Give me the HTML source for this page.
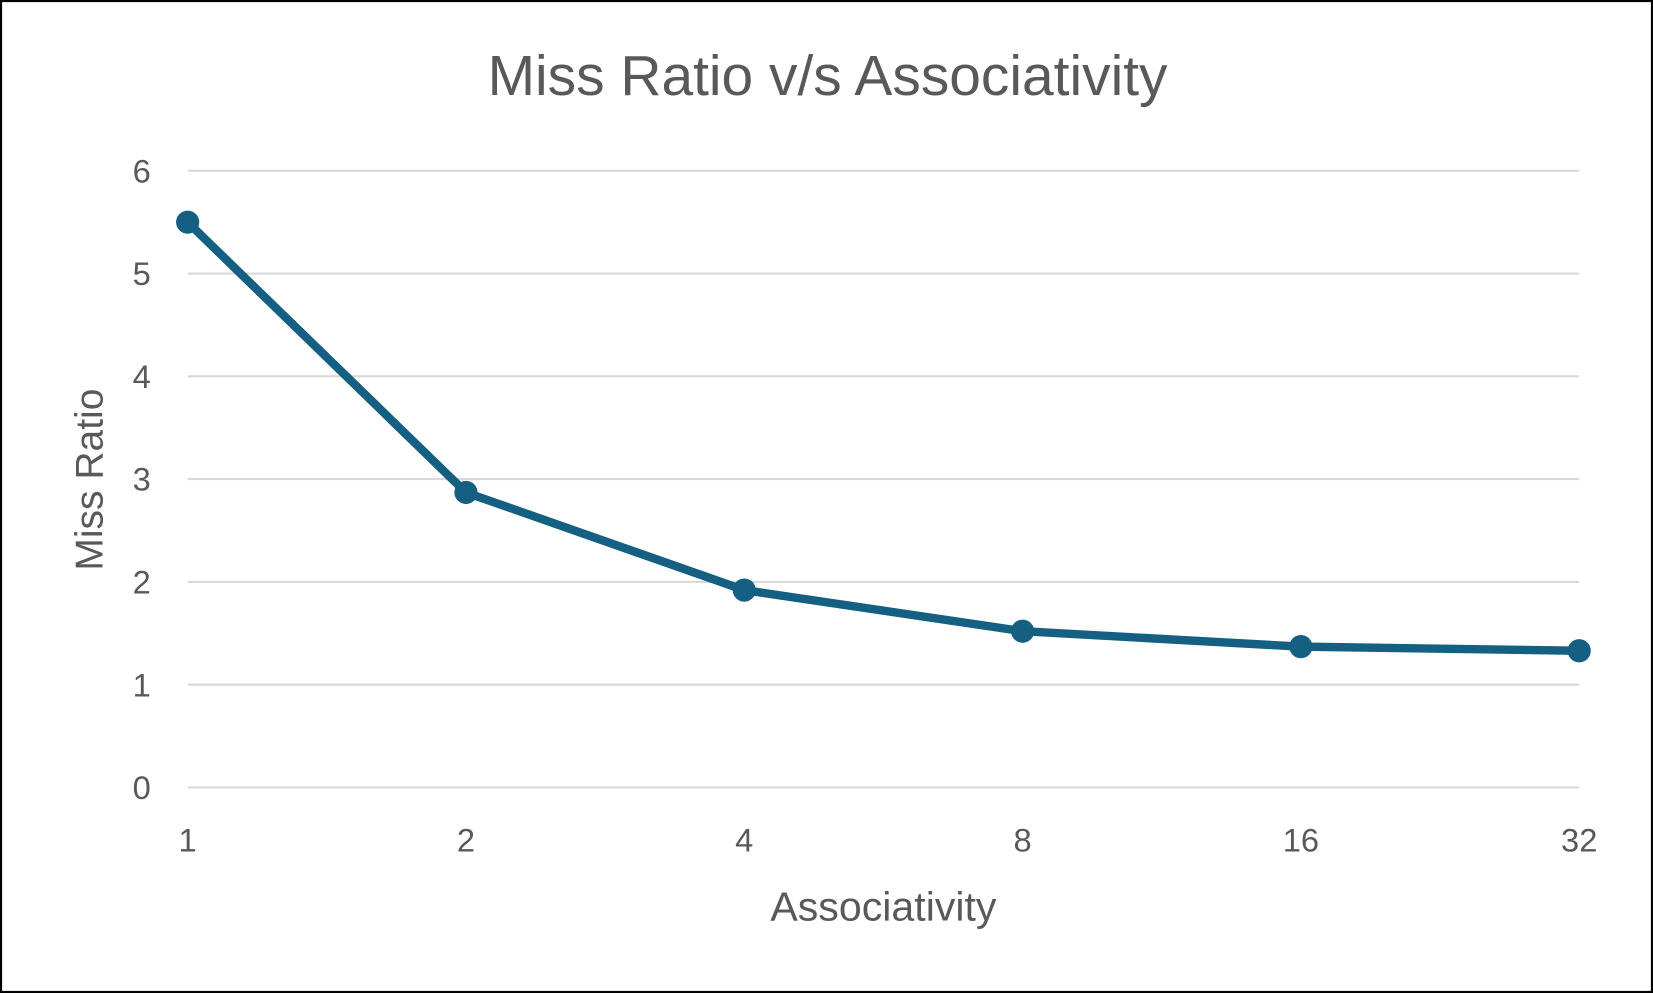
<!DOCTYPE html>
<html><head><meta charset="utf-8"><style>
html,body{margin:0;padding:0;background:#fff;}
svg{display:block;font-family:"Liberation Sans",sans-serif;}
</style></head><body>
<svg id="chart" width="1653" height="993" viewBox="0 0 1568 942" preserveAspectRatio="none">
<rect x="1" y="1" width="1566" height="940" fill="#fff" stroke="#000" stroke-width="2"/>
<text x="785" y="90" text-anchor="middle" font-size="54" fill="#595959">Miss Ratio v/s Associativity</text>
<g id="grid"></g><g id="yticks"></g><g id="xticks"></g><g id="series"></g>
<text x="838" y="873" text-anchor="middle" font-size="39" fill="#595959">Associativity</text>
<text transform="translate(97,455) rotate(-90)" text-anchor="middle" font-size="37" fill="#595959">Miss Ratio</text>
</svg>
<script>
const categories = ["1","2","4","8","16","32"];
const missRatio = [5.5, 2.87, 1.92, 1.52, 1.37, 1.33];
const yTickLabels = [0,1,2,3,4,5,6];
const NS="http://www.w3.org/2000/svg";
const x0=178,x1=1498,yTop=162,yBot=747,yMax=6;
function xs(i){return x0+i*(x1-x0)/(categories.length-1);}
function ys(v){return yBot-(v/yMax)*(yBot-yTop);}
function mk(t,a,p){const e=document.createElementNS(NS,t);for(const k in a)e.setAttribute(k,a[k]);p.appendChild(e);return e;}
const grid=document.getElementById('grid'),yt=document.getElementById('yticks'),xt=document.getElementById('xticks'),se=document.getElementById('series');
yTickLabels.forEach(v=>{
  const l=mk('line',{x1:x0,x2:x1,y1:ys(v),y2:ys(v),stroke:'#d9d9d9','stroke-width':2},grid);
  
  
  const t=mk('text',{x:143,y:ys(v)+11,'text-anchor':'end','font-size':31,fill:'#595959'},yt);
  t.textContent=v;
  
  
});
categories.forEach((c,i)=>{
  const t=mk('text',{x:xs(i),y:808,'text-anchor':'middle','font-size':31,fill:'#595959'},xt);
  t.textContent=c;
  
  
});
const pts=missRatio.map((v,i)=>xs(i)+','+ys(v)).join(' ');
const pl=mk('polyline',{points:pts,fill:'none',stroke:'#156082','stroke-width':8,'stroke-linejoin':'round'},se);


missRatio.forEach((v,i)=>{
  const c=mk('circle',{cx:xs(i),cy:ys(v),r:11,fill:'#156082'},se);
  
  
});
</script>
</body></html>
